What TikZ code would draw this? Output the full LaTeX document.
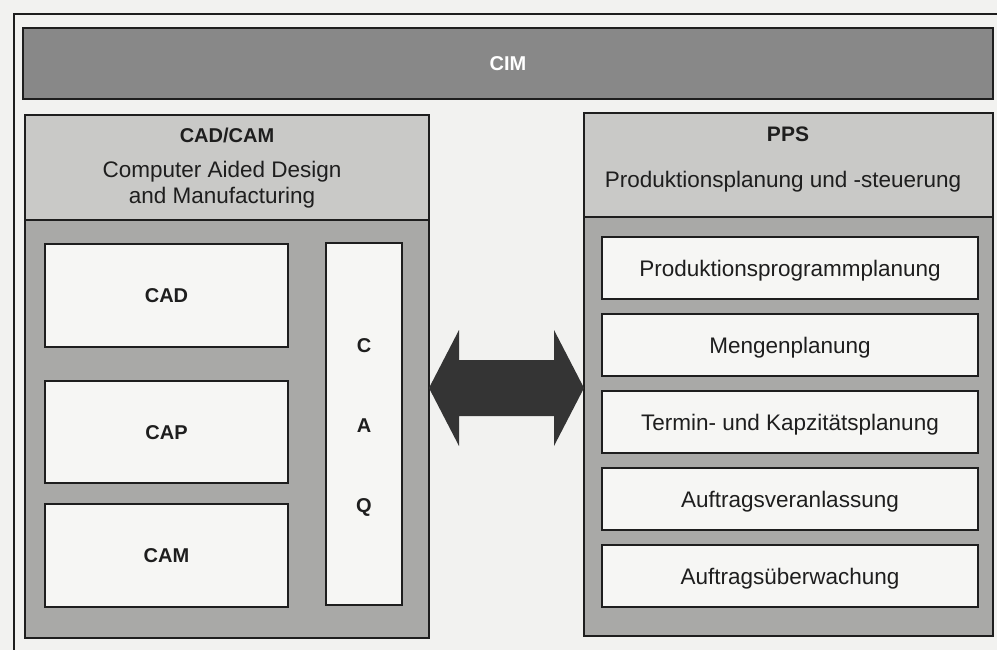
\documentclass[tikz,border=0pt]{standalone}
\usepackage{fontspec}
\setmainfont{Liberation Sans}
\usetikzlibrary{calc}

\definecolor{paper}{HTML}{F2F2F0}
\definecolor{cimgrey}{HTML}{888888}
\definecolor{headgrey}{HTML}{C9C9C7}
\definecolor{panelgrey}{HTML}{A9A9A7}
\definecolor{boxwhite}{HTML}{F6F6F4}
\definecolor{ink}{HTML}{1E1E1E}
\definecolor{arrowgrey}{HTML}{343434}

\begin{document}
\begin{tikzpicture}[x=1pt,y=-1pt,
  panel/.style={draw=ink, line width=1.5pt, inner sep=0pt, outer sep=0pt,
    anchor=north west, rectangle},
  plain/.style={font=\fontsize{22.5}{26}\selectfont},
  heavy/.style={font=\bfseries\fontsize{20}{24}\selectfont},
  plaincap/.style={text height=16.1pt, text depth=0pt},
  heavycap/.style={text height=14.4pt, text depth=0pt},
  label/.style={inner sep=0pt, anchor=base, text=ink},
  itembox/.style={panel, fill=boxwhite, minimum width=376pt, minimum height=62pt,
    plain, plaincap, text=ink},
  cbox/.style={panel, fill=boxwhite, minimum width=243pt, minimum height=103pt,
    heavy, heavycap, text=ink}
]
% paper and outer frame
\fill[paper] (0,0) rectangle (997,650);
\useasboundingbox (0,0) rectangle (997,650);
\draw[ink, line width=1.5pt] (14,650) -- (14,14) -- (997,14);

% CIM bar
\node[panel, fill=cimgrey, minimum width=970pt, minimum height=71pt,
  heavy, heavycap, text=white] (cim) at (23,28) {CIM};

% CAD/CAM column
\node[panel, fill=headgrey, minimum width=404pt, minimum height=105pt] (cadhead) at (25,115) {};
\node[panel, fill=panelgrey, minimum width=404pt, minimum height=418pt] (cadlow) at (25,220) {};
\node[label, heavy] (cadtitle) at (227,143) {CAD/CAM};
\node[label, plain] (cadsub1) at (222,178) {Computer Aided Design};
\node[label, plain] (cadsub2) at (222,204) {and Manufacturing};

\node[cbox] (cad) at (45,244) {CAD};
\node[cbox, minimum height=102pt] (cap) at (45,381) {CAP};
\node[cbox] (cam) at (45,504) {CAM};

\node[panel, fill=boxwhite, minimum width=76pt, minimum height=362pt] (caq) at (326,243) {};
\node[label, heavy] (caqc) at (364,352) {C};
\node[label, heavy] (caqa) at (364,432) {A};
\node[label, heavy] (caqq) at (364,512) {Q};

% PPS column
\node[panel, fill=headgrey, minimum width=409pt, minimum height=104pt] (ppshead) at (584,113) {};
\node[panel, fill=panelgrey, minimum width=409pt, minimum height=419pt] (ppslow) at (584,217) {};
\node[label, font=\bfseries\fontsize{21}{24}\selectfont] (ppstitle) at (788,142) {PPS};
\node[label, plain] (ppssub) at (783,188) {Produktionsplanung und -steuerung};

\node[itembox] (pp1) at (602,237) {Produktionsprogrammplanung};
\node[itembox] (pp2) at (602,314) {Mengenplanung};
\node[itembox] (pp3) at (602,391) {Termin- und Kapzitätsplanung};
\node[itembox] (pp4) at (602,468) {Auftragsveranlassung};
\node[itembox] (pp5) at (602,545) {Auftragsüberwachung};

% two-headed block arrow between the columns
\coordinate (ah) at (0,388);
\coordinate (al) at (cadlow.east |- ah);
\coordinate (ar) at (ppslow.west |- ah);
\fill[arrowgrey] (al) -- ($(al)+(30,-58)$) -- ($(al)+(30,-28)$)
  -- ($(ar)+(-30,-28)$) -- ($(ar)+(-30,-58)$) -- (ar)
  -- ($(ar)+(-30,58)$) -- ($(ar)+(-30,28)$)
  -- ($(al)+(30,28)$) -- ($(al)+(30,58)$) -- cycle;
\end{tikzpicture}
\end{document}
